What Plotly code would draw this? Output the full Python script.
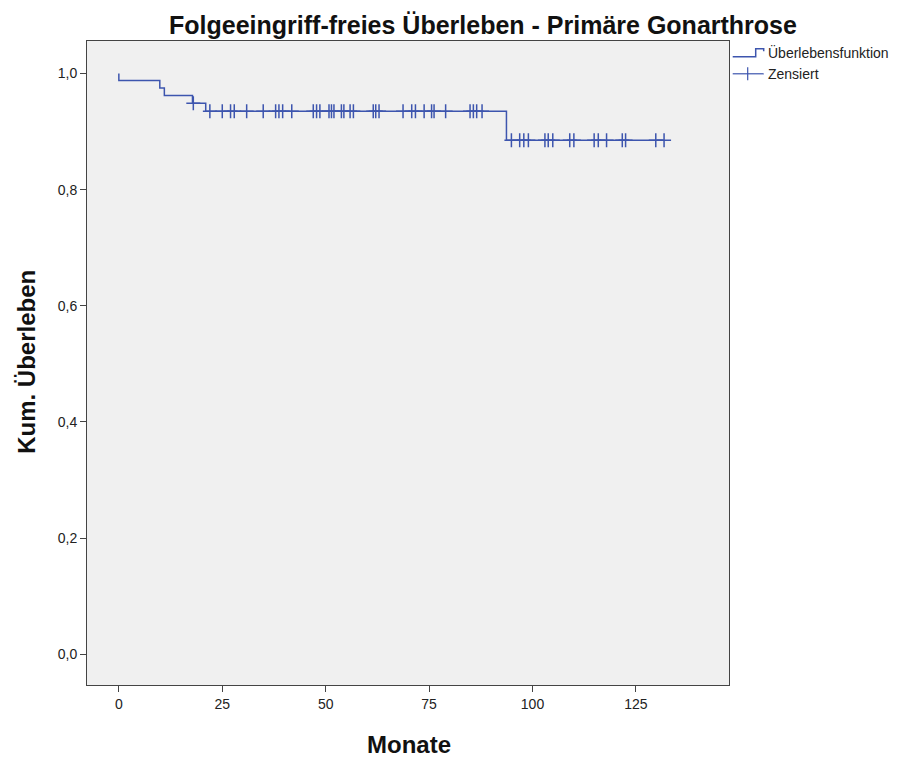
import numpy as np
import plotly.graph_objects as go

# ---- data ----
event_months = [0.0, 9.9, 11.0, 17.8, 21.0, 93.7]
surv_after_event = [0.988, 0.975, 0.962, 0.949, 0.935, 0.885]
censor_months = [18.0, 22.0, 25.0, 27.0, 27.9, 30.9, 34.9, 37.9, 38.7, 39.6, 41.8,
                 47.0, 47.8, 48.6, 50.8, 51.4, 52.0, 53.8, 54.4, 55.9, 56.7,
                 61.5, 62.1, 62.9, 68.7, 70.8, 71.7, 73.8, 75.6, 76.2, 79.0,
                 84.9, 85.7, 86.5, 87.8, 94.9, 96.9, 97.9, 99.0, 103.0, 103.8,
                 104.9, 109.0, 110.0, 114.9, 115.9, 117.9, 121.7, 122.5, 129.8, 131.8]
x_ticks = [0, 25, 50, 75, 100, 125]
y_ticks = [0.0, 0.2, 0.4, 0.6, 0.8, 1.0]

title_text = "Folgeeingriff-freies Überleben - Primäre Gonarthrose"
x_title = "Monate"
y_title = "Kum. Überleben"
legend_names = ["Überlebensfunktion", "Zensiert"]

# ---- build step curve ----
ev = np.array(event_months)
sv = np.array(surv_after_event)
end_t = max(censor_months)
step_x = [0.0] + list(ev) + [end_t]
step_y = [1.0] + list(sv) + [sv[-1]]

def surv_at(t):
    idx = np.searchsorted(ev, t, side="right") - 1
    return 1.0 if idx < 0 else float(sv[idx])

cens_y = [surv_at(t) for t in censor_months]

BLUE = "#3D55AE"
FONT = "Liberation Sans, Arial, sans-serif"

fig = go.Figure()
fig.add_trace(go.Scatter(x=step_x, y=step_y, mode="lines", line=dict(color=BLUE, width=1.5, shape="hv"),
                         showlegend=False, hoverinfo="skip"))
fig.add_trace(go.Scatter(x=censor_months, y=cens_y, mode="markers",
                         marker=dict(symbol="cross-thin", size=10, line=dict(color=BLUE, width=1.5)),
                         showlegend=False))

# page offset (browser body margin) and plot area in window pixels
OFF = 8
WIN_W, WIN_H = 917, 757
W, H = WIN_W - OFF, WIN_H - OFF
L, R, T, B = 87.3, 729.3, 40.7, 685.0
def px(xp):
    return (xp - L) / (R - L)
def py(yp):
    return (B - yp) / (B - T)

axis_common = dict(showline=True, linecolor="#444444", linewidth=1, mirror=True,
                   ticks="outside", ticklen=6, tickcolor="#444444", tickwidth=1,
                   showgrid=False, zeroline=False,
                   tickfont=dict(family=FONT, size=14, color="#222222"))
fig.update_xaxes(range=[-7.7, 147.5], tickvals=x_ticks, **axis_common)
fig.update_yaxes(range=[-0.053, 1.056], tickvals=y_ticks, tickformat=".1f", **axis_common)

shapes = []
# legend glyph: step function
shapes.append(dict(type="path", xref="paper", yref="paper",
                   path=f"M {px(733)} {py(56.5)} L {px(756)} {py(56.5)} L {px(756)} {py(48.5)} L {px(764)} {py(48.5)} L {px(764)} {py(51)}",
                   line=dict(color=BLUE, width=1.5)))
# legend glyph: censor
shapes.append(dict(type="line", xref="paper", yref="paper", x0=px(733), x1=px(764), y0=py(73.5), y1=py(73.5),
                   line=dict(color=BLUE, width=1.2)))
shapes.append(dict(type="line", xref="paper", yref="paper", x0=px(748), x1=px(748), y0=py(67), y1=py(80),
                   line=dict(color=BLUE, width=1.2)))

annotations = [
    dict(text=legend_names[0], xref="paper", yref="paper", x=px(766), y=py(52), xanchor="left", yanchor="middle",
         showarrow=False, font=dict(family=FONT, size=14, color="#222222")),
    dict(text=legend_names[1], xref="paper", yref="paper", x=px(766), y=py(74), xanchor="left", yanchor="middle",
         showarrow=False, font=dict(family=FONT, size=14, color="#222222")),
    dict(text=f"<b>{x_title}</b>", xref="paper", yref="paper", x=px(409), y=py(745), xanchor="center", yanchor="middle",
         showarrow=False, font=dict(family=FONT, size=24, color="#111111")),
    dict(text=f"<b>{y_title}</b>", xref="paper", yref="paper", x=px(26), y=py(362), xanchor="center", yanchor="middle",
         textangle=-90, showarrow=False, font=dict(family=FONT, size=24, color="#111111")),
    dict(text=f"<b>{title_text}</b>", xref="paper", yref="paper", x=px(483), y=py(OFF + 0.5), xanchor="center", yanchor="top",
         showarrow=False, font=dict(family=FONT, size=25, color="#111111")),
]

fig.update_layout(
    width=W, height=H,
    margin=dict(l=L - OFF, r=WIN_W - R, t=T - OFF, b=WIN_H - B, pad=0),
    paper_bgcolor="white", plot_bgcolor="#F0F0F0",
    separators=",.",
    shapes=shapes, annotations=annotations,
    showlegend=False,
)

fig.write_html("out.html")
